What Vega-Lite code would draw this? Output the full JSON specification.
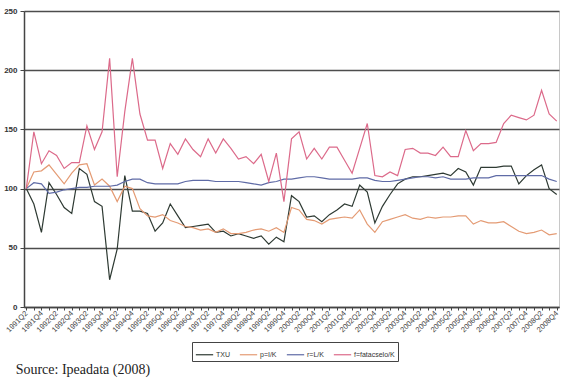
{
  "$schema": "https://vega.github.io/schema/vega-lite/v6.json",
  "width": 535,
  "height": 296,
  "autosize": "none",
  "padding": {"left": 24, "top": 11, "right": 4, "bottom": 73},
  "background": "white",
  "config": {
    "view": {"stroke": "#c8c8c8", "strokeWidth": 1},
    "font": "Liberation Sans"
  },
  "title": {
    "text": "Source: Ipeadata (2008)",
    "orient": "bottom",
    "anchor": "start",
    "font": "Liberation Serif",
    "fontSize": 14,
    "fontWeight": "normal",
    "color": "#222",
    "offset": 1,
    "dx": 12
  },
  "data": {
    "values": [
      {"q":"1991Q2","TXU":100,"p=I/K":100,"r=L/K":100,"f=fatacselo/K":100},
      {"q":"1991Q3","TXU":87,"p=I/K":114,"r=L/K":105,"f=fatacselo/K":148},
      {"q":"1991Q4","TXU":63,"p=I/K":115,"r=L/K":104,"f=fatacselo/K":121},
      {"q":"1992Q1","TXU":105,"p=I/K":120,"r=L/K":96,"f=fatacselo/K":132},
      {"q":"1992Q2","TXU":95,"p=I/K":112,"r=L/K":97,"f=fatacselo/K":128},
      {"q":"1992Q3","TXU":84,"p=I/K":104,"r=L/K":99,"f=fatacselo/K":117},
      {"q":"1992Q4","TXU":79,"p=I/K":113,"r=L/K":100,"f=fatacselo/K":122},
      {"q":"1993Q1","TXU":117,"p=I/K":120,"r=L/K":101,"f=fatacselo/K":122},
      {"q":"1993Q2","TXU":112,"p=I/K":121,"r=L/K":101,"f=fatacselo/K":153},
      {"q":"1993Q3","TXU":89,"p=I/K":103,"r=L/K":102,"f=fatacselo/K":133},
      {"q":"1993Q4","TXU":85,"p=I/K":108,"r=L/K":102,"f=fatacselo/K":148},
      {"q":"1994Q1","TXU":23,"p=I/K":102,"r=L/K":102,"f=fatacselo/K":210},
      {"q":"1994Q2","TXU":49,"p=I/K":89,"r=L/K":103,"f=fatacselo/K":110},
      {"q":"1994Q3","TXU":111,"p=I/K":102,"r=L/K":106,"f=fatacselo/K":165},
      {"q":"1994Q4","TXU":81,"p=I/K":100,"r=L/K":108,"f=fatacselo/K":210},
      {"q":"1995Q1","TXU":81,"p=I/K":83,"r=L/K":108,"f=fatacselo/K":163},
      {"q":"1995Q2","TXU":79,"p=I/K":77,"r=L/K":105,"f=fatacselo/K":141},
      {"q":"1995Q3","TXU":64,"p=I/K":76,"r=L/K":104,"f=fatacselo/K":141},
      {"q":"1995Q4","TXU":71,"p=I/K":78,"r=L/K":104,"f=fatacselo/K":117},
      {"q":"1996Q1","TXU":87,"p=I/K":73,"r=L/K":104,"f=fatacselo/K":138},
      {"q":"1996Q2","TXU":77,"p=I/K":71,"r=L/K":104,"f=fatacselo/K":129},
      {"q":"1996Q3","TXU":67,"p=I/K":68,"r=L/K":106,"f=fatacselo/K":142},
      {"q":"1996Q4","TXU":68,"p=I/K":67,"r=L/K":107,"f=fatacselo/K":133},
      {"q":"1997Q1","TXU":69,"p=I/K":65,"r=L/K":107,"f=fatacselo/K":127},
      {"q":"1997Q2","TXU":70,"p=I/K":66,"r=L/K":107,"f=fatacselo/K":142},
      {"q":"1997Q3","TXU":63,"p=I/K":63,"r=L/K":106,"f=fatacselo/K":130},
      {"q":"1997Q4","TXU":64,"p=I/K":66,"r=L/K":106,"f=fatacselo/K":142},
      {"q":"1998Q1","TXU":60,"p=I/K":62,"r=L/K":106,"f=fatacselo/K":134},
      {"q":"1998Q2","TXU":62,"p=I/K":62,"r=L/K":106,"f=fatacselo/K":125},
      {"q":"1998Q3","TXU":60,"p=I/K":63,"r=L/K":105,"f=fatacselo/K":127},
      {"q":"1998Q4","TXU":58,"p=I/K":65,"r=L/K":104,"f=fatacselo/K":121},
      {"q":"1999Q1","TXU":60,"p=I/K":66,"r=L/K":103,"f=fatacselo/K":129},
      {"q":"1999Q2","TXU":53,"p=I/K":64,"r=L/K":105,"f=fatacselo/K":106},
      {"q":"1999Q3","TXU":59,"p=I/K":67,"r=L/K":106,"f=fatacselo/K":130},
      {"q":"1999Q4","TXU":55,"p=I/K":63,"r=L/K":108,"f=fatacselo/K":89},
      {"q":"2000Q1","TXU":94,"p=I/K":84,"r=L/K":108,"f=fatacselo/K":142},
      {"q":"2000Q2","TXU":89,"p=I/K":82,"r=L/K":109,"f=fatacselo/K":148},
      {"q":"2000Q3","TXU":76,"p=I/K":74,"r=L/K":110,"f=fatacselo/K":125},
      {"q":"2000Q4","TXU":77,"p=I/K":73,"r=L/K":110,"f=fatacselo/K":134},
      {"q":"2001Q1","TXU":72,"p=I/K":70,"r=L/K":109,"f=fatacselo/K":125},
      {"q":"2001Q2","TXU":78,"p=I/K":74,"r=L/K":108,"f=fatacselo/K":135},
      {"q":"2001Q3","TXU":82,"p=I/K":75,"r=L/K":108,"f=fatacselo/K":135},
      {"q":"2001Q4","TXU":87,"p=I/K":76,"r=L/K":108,"f=fatacselo/K":124},
      {"q":"2002Q1","TXU":85,"p=I/K":75,"r=L/K":108,"f=fatacselo/K":113},
      {"q":"2002Q2","TXU":103,"p=I/K":82,"r=L/K":109,"f=fatacselo/K":134},
      {"q":"2002Q3","TXU":97,"p=I/K":70,"r=L/K":109,"f=fatacselo/K":155},
      {"q":"2002Q4","TXU":71,"p=I/K":63,"r=L/K":107,"f=fatacselo/K":111},
      {"q":"2003Q1","TXU":85,"p=I/K":72,"r=L/K":106,"f=fatacselo/K":110},
      {"q":"2003Q2","TXU":95,"p=I/K":74,"r=L/K":106,"f=fatacselo/K":114},
      {"q":"2003Q3","TXU":104,"p=I/K":76,"r=L/K":107,"f=fatacselo/K":111},
      {"q":"2003Q4","TXU":108,"p=I/K":78,"r=L/K":108,"f=fatacselo/K":133},
      {"q":"2004Q1","TXU":110,"p=I/K":75,"r=L/K":109,"f=fatacselo/K":134},
      {"q":"2004Q2","TXU":110,"p=I/K":74,"r=L/K":110,"f=fatacselo/K":130},
      {"q":"2004Q3","TXU":111,"p=I/K":76,"r=L/K":110,"f=fatacselo/K":130},
      {"q":"2004Q4","TXU":112,"p=I/K":75,"r=L/K":109,"f=fatacselo/K":128},
      {"q":"2005Q1","TXU":113,"p=I/K":76,"r=L/K":110,"f=fatacselo/K":135},
      {"q":"2005Q2","TXU":111,"p=I/K":76,"r=L/K":108,"f=fatacselo/K":127},
      {"q":"2005Q3","TXU":117,"p=I/K":77,"r=L/K":108,"f=fatacselo/K":127},
      {"q":"2005Q4","TXU":114,"p=I/K":77,"r=L/K":108,"f=fatacselo/K":149},
      {"q":"2006Q1","TXU":103,"p=I/K":70,"r=L/K":109,"f=fatacselo/K":132},
      {"q":"2006Q2","TXU":118,"p=I/K":73,"r=L/K":109,"f=fatacselo/K":138},
      {"q":"2006Q3","TXU":118,"p=I/K":71,"r=L/K":109,"f=fatacselo/K":138},
      {"q":"2006Q4","TXU":118,"p=I/K":71,"r=L/K":111,"f=fatacselo/K":139},
      {"q":"2007Q1","TXU":119,"p=I/K":72,"r=L/K":111,"f=fatacselo/K":155},
      {"q":"2007Q2","TXU":119,"p=I/K":68,"r=L/K":111,"f=fatacselo/K":162},
      {"q":"2007Q3","TXU":104,"p=I/K":64,"r=L/K":111,"f=fatacselo/K":160},
      {"q":"2007Q4","TXU":111,"p=I/K":62,"r=L/K":111,"f=fatacselo/K":158},
      {"q":"2008Q1","TXU":116,"p=I/K":63,"r=L/K":111,"f=fatacselo/K":162},
      {"q":"2008Q2","TXU":120,"p=I/K":65,"r=L/K":111,"f=fatacselo/K":183},
      {"q":"2008Q3","TXU":100,"p=I/K":61,"r=L/K":108,"f=fatacselo/K":163},
      {"q":"2008Q4","TXU":95,"p=I/K":62,"r=L/K":106,"f=fatacselo/K":157}
    ]
  },
  "transform": [
    {"fold": ["TXU", "p=I/K", "r=L/K", "f=fatacselo/K"], "as": ["series", "value"]}
  ],
  "mark": {"type": "line", "strokeWidth": 1.2, "interpolate": "linear"},
  "encoding": {
    "x": {
      "field": "q",
      "type": "ordinal",
      "sort": null,
      "scale": {"type": "point", "padding": 0.3},
      "axis": {
        "title": null,
        "labelAngle": -45,
        "labelAlign": "right",
        "labelBaseline": "middle",
        "labelFontSize": 7.5,
        "labelColor": "#444",
        "labelPadding": 2,
        "labelExpr": "(slice(datum.value, 5) == '2' || slice(datum.value, 5) == '4') ? datum.value : ''",
        "labelOverlap": false,
        "ticks": true,
        "tickSize": 3,
        "tickColor": "#444",
        "domainColor": "#444",
        "domainWidth": 1.5,
        "grid": false
      }
    },
    "y": {
      "field": "value",
      "type": "quantitative",
      "scale": {"domain": [0, 250], "nice": false, "zero": true},
      "axis": {
        "title": null,
        "values": [0, 50, 100, 150, 200, 250],
        "labelFontSize": 8,
        "labelFontWeight": "bold",
        "labelColor": "#333",
        "labelPadding": 3,
        "tickSize": 4,
        "tickColor": "#444",
        "domainColor": "#444",
        "domainWidth": 1.5,
        "grid": true,
        "gridColor": "#4d4d4d",
        "gridWidth": 1.5,
        "gridOpacity": 1
      }
    },
    "color": {
      "field": "series",
      "type": "nominal",
      "sort": ["TXU", "p=I/K", "r=L/K", "f=fatacselo/K"],
      "scale": {
        "domain": ["TXU", "p=I/K", "r=L/K", "f=fatacselo/K"],
        "range": ["#2e3a33", "#e49b74", "#5f6ba6", "#dc6a8a"]
      },
      "legend": {
        "title": null,
        "orient": "none",
        "legendX": 168,
        "legendY": 331,
        "direction": "horizontal",
        "symbolType": "stroke",
        "symbolSize": 300,
        "symbolStrokeWidth": 1.2,
        "labelFontSize": 7,
        "labelColor": "#333",
        "columnPadding": 7,
        "strokeColor": "#444",
        "padding": 3,
        "labelOffset": 2
      }
    }
  }
}
